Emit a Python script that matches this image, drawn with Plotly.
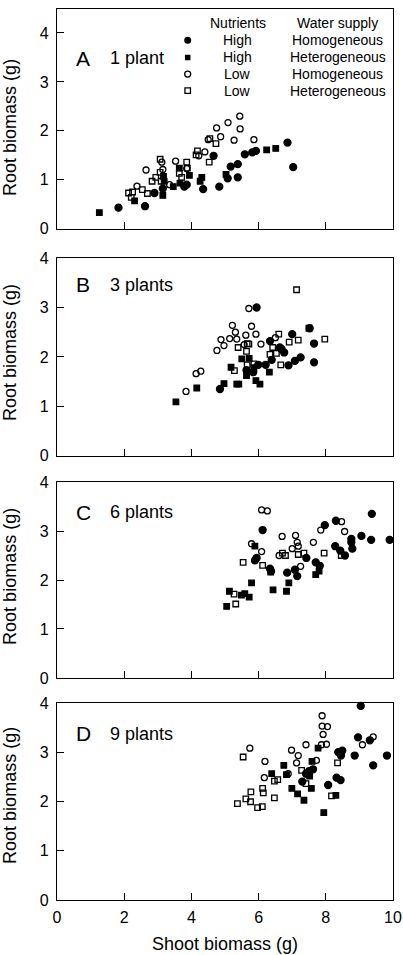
import plotly.graph_objects as go

# ---------------- data ----------------
PANEL_LETTERS = ["A", "B", "C", "D"]
PANEL_NAMES = ["1 plant", "3 plants", "6 plants", "9 plants"]
NUTRIENTS = ["High", "High", "Low", "Low"]
WATER = ["Homogeneous", "Heterogeneous", "Homogeneous", "Heterogeneous"]
Y_TICKS = [0, 1, 2, 3, 4]
X_TICKS = [0, 2, 4, 6, 8, 10]

# Panel A (1 plant)
A_HH_X = [1.83, 2.62, 2.90, 3.15, 3.79, 3.86, 4.35, 4.66, 4.83, 5.08, 5.17, 5.38, 5.38, 5.59, 5.81, 5.92, 6.86, 7.03]
A_HH_Y = [0.43, 0.46, 0.73, 0.82, 0.86, 0.90, 0.81, 1.49, 0.86, 1.03, 1.27, 1.32, 1.05, 1.52, 1.56, 1.59, 1.76, 1.26]
A_HT_X = [1.26, 2.31, 3.15, 3.19, 3.17, 3.46, 3.64, 3.66, 3.94, 4.26, 4.31, 5.03, 6.24, 6.51]
A_HT_Y = [0.33, 0.57, 0.68, 0.97, 1.07, 0.86, 1.24, 0.93, 1.09, 0.97, 1.05, 1.11, 1.61, 1.64]
A_LH_X = [2.38, 2.65, 3.12, 3.15, 3.35, 3.53, 3.86, 4.22, 4.40, 4.50, 4.75, 4.87, 5.09, 5.27, 5.44, 5.45, 5.86]
A_LH_Y = [0.87, 1.20, 1.36, 1.21, 0.90, 1.38, 1.23, 1.49, 1.57, 1.82, 2.06, 1.88, 2.17, 1.81, 2.30, 2.04, 1.82]
A_LT_X = [2.13, 2.21, 2.25, 2.54, 2.69, 2.83, 2.94, 3.07, 3.07, 3.10, 3.64, 3.71, 3.86, 3.88, 4.14, 4.18, 4.53, 4.55, 4.73]
A_LT_Y = [0.73, 0.64, 0.75, 0.80, 0.72, 0.97, 1.05, 1.15, 1.42, 0.97, 1.13, 1.05, 1.36, 1.24, 1.51, 1.59, 1.36, 1.84, 1.74]

# Panel B (3 plants)
B_HH_X = [4.85, 5.64, 5.84, 5.94, 5.99, 6.21, 6.34, 6.39, 6.63, 6.68, 6.76, 6.89, 7.00, 7.08, 7.25, 7.52, 7.65, 7.65]
B_HH_Y = [1.35, 1.73, 1.69, 3.00, 1.84, 1.84, 2.32, 1.94, 2.19, 2.16, 2.09, 1.83, 2.46, 1.92, 1.99, 2.58, 2.27, 1.89]
B_HT_X = [3.54, 4.16, 4.97, 5.18, 5.35, 5.41, 5.50, 5.64, 5.72, 5.86, 5.92, 6.04, 6.32, 7.50]
B_HT_Y = [1.09, 1.37, 1.46, 1.79, 1.45, 1.45, 1.96, 1.62, 1.97, 1.78, 1.52, 1.45, 1.69, 2.58]
B_LH_X = [3.84, 4.14, 4.28, 4.76, 4.88, 4.97, 5.14, 5.22, 5.31, 5.35, 5.57, 5.62, 5.71, 5.79, 5.92, 6.07, 6.50]
B_LH_Y = [1.30, 1.66, 1.71, 2.13, 2.35, 2.23, 2.37, 2.64, 2.50, 2.36, 2.25, 2.44, 2.98, 2.62, 2.46, 2.26, 2.39]
B_LT_X = [5.28, 5.39, 5.64, 5.66, 5.71, 5.66, 5.86, 6.34, 6.42, 6.53, 6.60, 6.66, 6.91, 7.18, 7.13, 7.97]
B_LT_Y = [1.72, 2.19, 2.11, 2.27, 2.26, 1.84, 1.86, 2.05, 2.19, 2.07, 2.46, 1.84, 2.30, 2.34, 3.36, 2.36]

# Panel C (6 plants)
C_HH_X = [5.89, 5.94, 6.12, 6.34, 6.37, 6.85, 7.08, 7.15, 7.42, 7.70, 7.82, 7.97, 8.30, 8.28, 8.43, 8.57, 8.76, 8.76, 8.79, 9.06, 9.35, 9.37, 9.90]
C_HH_Y = [2.40, 2.45, 3.02, 2.23, 2.18, 2.15, 2.21, 2.08, 2.45, 2.36, 2.29, 3.12, 3.21, 2.69, 2.60, 2.50, 2.84, 2.77, 2.64, 2.90, 2.82, 3.35, 2.82]
C_HT_X = [5.05, 5.13, 5.49, 5.59, 5.72, 5.79, 5.89, 6.43, 6.83, 6.90, 7.70, 7.80]
C_HT_Y = [1.46, 1.77, 1.69, 1.72, 1.65, 1.94, 2.69, 1.80, 1.77, 1.94, 2.11, 2.18]
C_LH_X = [6.09, 6.26, 5.79, 6.09, 6.61, 6.70, 7.00, 7.10, 7.15, 7.18, 7.25, 7.63, 7.85, 8.47, 8.56]
C_LH_Y = [3.43, 3.41, 2.74, 2.58, 2.50, 2.89, 2.64, 2.91, 2.77, 2.69, 2.28, 2.77, 3.02, 3.19, 2.99]
C_LT_X = [5.27, 5.32, 5.54, 6.12, 6.36, 6.71, 6.80, 7.18, 7.35, 7.95, 8.46]
C_LT_Y = [1.71, 1.51, 2.36, 2.30, 2.16, 2.55, 2.50, 2.52, 2.55, 2.55, 2.50]

# Panel D (9 plants)
D_HH_X = [7.30, 7.41, 7.50, 7.62, 8.07, 8.32, 8.44, 8.37, 8.49, 8.45, 8.86, 8.96, 9.04, 9.31, 9.41, 9.82]
D_HH_Y = [2.41, 2.57, 2.62, 2.66, 2.34, 2.49, 2.44, 3.01, 3.04, 2.94, 2.94, 3.31, 3.95, 3.25, 2.74, 2.94]
D_HT_X = [6.39, 6.75, 6.83, 6.99, 7.16, 7.35, 7.57, 7.59, 7.77, 7.94, 8.30, 7.52]
D_HT_Y = [2.57, 2.74, 2.55, 2.27, 2.16, 2.03, 2.27, 2.82, 3.09, 1.78, 2.13, 2.52]
D_LH_X = [5.74, 6.19, 6.17, 6.88, 6.98, 7.18, 7.13, 7.41, 7.72, 7.87, 7.89, 7.89, 8.05, 7.92, 8.02, 9.09, 9.41]
D_LH_Y = [3.09, 2.82, 2.49, 2.57, 3.05, 2.94, 2.79, 3.16, 2.84, 3.16, 3.75, 3.54, 3.53, 3.37, 3.17, 3.16, 3.32]
D_LT_X = [5.37, 5.54, 5.62, 5.76, 5.77, 5.97, 6.11, 6.12, 6.14, 6.47, 6.57, 6.47, 7.28, 7.41, 8.35, 8.17]
D_LT_Y = [1.96, 2.91, 2.06, 2.00, 2.20, 1.88, 1.90, 2.27, 2.18, 2.42, 2.45, 2.08, 2.64, 2.37, 2.79, 2.12]

PANEL_DATA = [
    [(A_HH_X, A_HH_Y), (A_HT_X, A_HT_Y), (A_LH_X, A_LH_Y), (A_LT_X, A_LT_Y)],
    [(B_HH_X, B_HH_Y), (B_HT_X, B_HT_Y), (B_LH_X, B_LH_Y), (B_LT_X, B_LT_Y)],
    [(C_HH_X, C_HH_Y), (C_HT_X, C_HT_Y), (C_LH_X, C_LH_Y), (C_LT_X, C_LT_Y)],
    [(D_HH_X, D_HH_Y), (D_HT_X, D_HT_Y), (D_LH_X, D_LH_Y), (D_LT_X, D_LT_Y)],
]

# ---------------- style ----------------
FONT = "Liberation Sans, Arial, Helvetica, sans-serif"
SYMBOLS = ["circle", "square", "circle-open", "square-open"]
SIZES = [7, 5.5, 6, 5.5]
Y_RANGES = [[0, 4.49], [0, 4], [0, 4], [0, 4]]
# vertical domains (paper fraction) of the four panels
DOMAINS = [[0.7534, 1.0], [0.4987, 0.7204], [0.2492, 0.4691], [0.0, 0.2206]]
SUFFIX = ["", "2", "3", "4"]

fig = go.Figure()
for p in range(4):
    for g in range(4):
        xs, ys = PANEL_DATA[p][g]
        fig.add_trace(go.Scatter(
            x=xs, y=ys, mode="markers",
            xaxis="x" + SUFFIX[p], yaxis="y" + SUFFIX[p],
            marker=dict(symbol=SYMBOLS[g], size=SIZES[g], color="black",
                        line=dict(color="black", width=1.3)),
            cliponaxis=False, showlegend=False,
            name=NUTRIENTS[g] + " / " + WATER[g],
        ))

layout = dict(
    width=403, height=955,
    margin=dict(l=57, r=10, t=1, b=55),
    paper_bgcolor="white", plot_bgcolor="white",
    font=dict(family=FONT, color="black", size=16),
    showlegend=False,
)
for p in range(4):
    s = SUFFIX[p]
    layout["xaxis" + s] = dict(
        domain=[0, 1], range=[0, 10], anchor="y" + s,
        tickvals=X_TICKS, ticks="inside", ticklen=7, tickwidth=1, tickcolor="black",
        showline=True, mirror=True, linecolor="black", linewidth=1.2,
        showgrid=False, zeroline=False, showticklabels=(p == 3),
        tickfont=dict(size=16), ticklabelstandoff=3,
    )
    layout["yaxis" + s] = dict(
        domain=DOMAINS[p], range=Y_RANGES[p], anchor="x" + s,
        tickvals=Y_TICKS, ticks="inside", ticklen=7, tickwidth=1, tickcolor="black",
        showline=True, mirror=True, linecolor="black", linewidth=1.2,
        showgrid=False, zeroline=False,
        tickfont=dict(size=16), ticklabelstandoff=4,
    )

annotations = []
LETTER_Y = [3.48, 3.46, 3.38, 3.38]
for p in range(4):
    s = SUFFIX[p]
    annotations.append(dict(text=PANEL_LETTERS[p], x=0.5, y=LETTER_Y[p], xref="x" + s, yref="y" + s,
                            xanchor="left", yanchor="middle", showarrow=False, font=dict(size=21)))
    annotations.append(dict(text=PANEL_NAMES[p], x=1.52, y=LETTER_Y[p], xref="x" + s, yref="y" + s,
                            xanchor="left", yanchor="middle", showarrow=False, font=dict(size=18)))

# y axis titles (one per panel)
YTITLE_Y = [0.8676, 0.6149, 0.3637, 0.1179]
for p in range(4):
    annotations.append(dict(text="Root biomass (g)", x=-0.14, y=YTITLE_Y[p], xref="paper", yref="paper",
                            xanchor="center", yanchor="middle", textangle=-90, showarrow=False,
                            font=dict(size=18)))
annotations.append(dict(text="Shoot biomass (g)", x=0.5, y=-0.049, xref="paper", yref="paper",
                        xanchor="center", yanchor="middle", showarrow=False, font=dict(size=18)))

# legend table inside panel A
LEG_HEAD_Y = 4.20
LEG_ROW_Y = [3.85, 3.50, 3.16, 2.82]
LEG_SYM_X = 3.89
LEG_NUT_X = 5.38
LEG_WAT_X = 8.35
annotations.append(dict(text="Nutrients", x=LEG_NUT_X, y=LEG_HEAD_Y, xref="x", yref="y", showarrow=False,
                        xanchor="center", yanchor="middle", font=dict(size=14)))
annotations.append(dict(text="Water supply", x=LEG_WAT_X, y=LEG_HEAD_Y, xref="x", yref="y", showarrow=False,
                        xanchor="center", yanchor="middle", font=dict(size=14)))
shapes = []
for g in range(4):
    annotations.append(dict(text=NUTRIENTS[g], x=LEG_NUT_X, y=LEG_ROW_Y[g], xref="x", yref="y", showarrow=False,
                            xanchor="center", yanchor="middle", font=dict(size=14)))
    annotations.append(dict(text=WATER[g], x=LEG_WAT_X, y=LEG_ROW_Y[g], xref="x", yref="y", showarrow=False,
                            xanchor="center", yanchor="middle", font=dict(size=14)))
    half = SIZES[g] / 2
    filled = g < 2
    shapes.append(dict(
        type="circle" if g in (0, 2) else "rect",
        xref="x", yref="y", xsizemode="pixel", ysizemode="pixel",
        xanchor=LEG_SYM_X, yanchor=LEG_ROW_Y[g],
        x0=-half, x1=half, y0=-half, y1=half,
        fillcolor="black" if filled else "white",
        line=dict(color="black", width=0 if filled else 1.3),
    ))

layout["annotations"] = annotations
layout["shapes"] = shapes
fig.update_layout(**layout)
fig.write_html(
    "out.html",
    config={"displayModeBar": False},
    post_script="document.body.style.margin='0';document.body.style.overflow='hidden';",
)
